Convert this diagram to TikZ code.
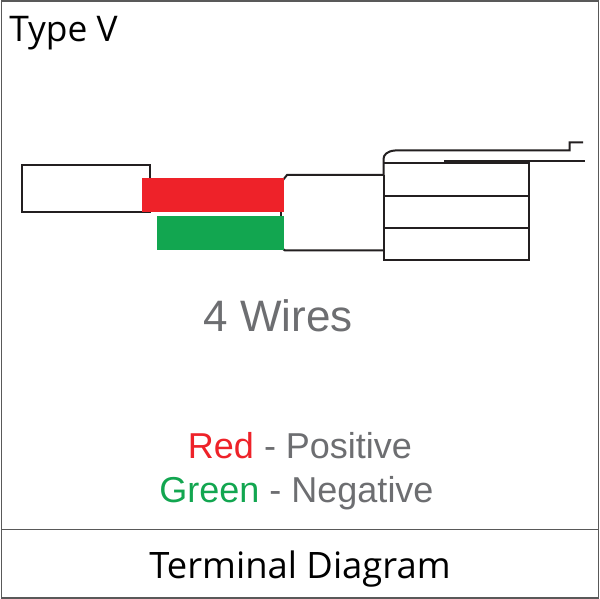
\documentclass[tikz,border=0pt]{standalone}
\usepackage{fontspec}
\setmainfont{Liberation Sans}
\newfontfamily\capfont{Open Sans}
\definecolor{wirered}{HTML}{EE2229}
\definecolor{wiregreen}{HTML}{12A650}
\definecolor{txtgray}{HTML}{6D6E71}
\definecolor{linedark}{HTML}{231F20}
\tikzset{
  px/.style={x=0.75pt,y=-0.75pt},
  ln/.style={draw=linedark,line width=1.5pt},
  frame/.style={draw=gray!70!black,line width=1.3pt},
  lbl/.style={inner sep=0pt,anchor=base},
}
\begin{document}
\begin{tikzpicture}[px]
\useasboundingbox (0,0) rectangle (600,599);
\fill[white] (0,0) rectangle (600,599);
\draw[frame] (1.5,1) rectangle (598.5,598);
\draw[frame] (1.5,529.5) -- (598.5,529.5);
% left sleeve
\draw[ln] (21.5,165) rectangle (150,212.5);
% middle body
\draw[ln] (283,180) -- (287,175) -- (383.5,175);
\draw[ln] (281,212) -- (281,217);
\draw[ln] (283,249) -- (285,250.5) -- (383.5,250.5);
% connector
\draw[ln] (383.5,175) -- (383.5,159) .. controls (383.5,155) and (387,151) .. (395,150.5) -- (569.5,150.5) -- (569.5,142.5) -- (583,142.5);
\draw[ln] (383.5,163.5) -- (444,163.5);
\draw[draw=linedark,line width=2.4pt] (444,162) -- (529,162);
\draw[ln] (529,161.5) -- (585,161.5);
\draw[ln] (529,162) -- (529,260) -- (383.5,260) -- (383.5,175);
\draw[ln] (383.5,196.5) -- (530,196.5);
\draw[ln] (383.5,228.5) -- (529,228.5);
% wires
\fill[wirered] (142,178) rectangle (284,212);
\fill[wiregreen] (157,216) rectangle (284,250);
% text
\node[lbl,font=\capfont\fontsize{26.5}{30}\selectfont,anchor=base west] (title) at (9,42) {Type V};
\node[lbl,font=\fontsize{33}{36}\selectfont,text=txtgray] (wires) at (278,331) {4 Wires};
\node[lbl,font=\fontsize{27}{30}\selectfont,text=txtgray] (red) at (300,458) {\textcolor{wirered}{Red} - Positive};
\node[lbl,font=\fontsize{27}{30}\selectfont,text=txtgray] (green) at (296.5,502) {\textcolor{wiregreen}{Green} - Negative};
\node[lbl,font=\capfont\fontsize{27.3}{32}\selectfont] (cap) at (300,578) {Terminal Diagram};
\end{tikzpicture}
\end{document}
